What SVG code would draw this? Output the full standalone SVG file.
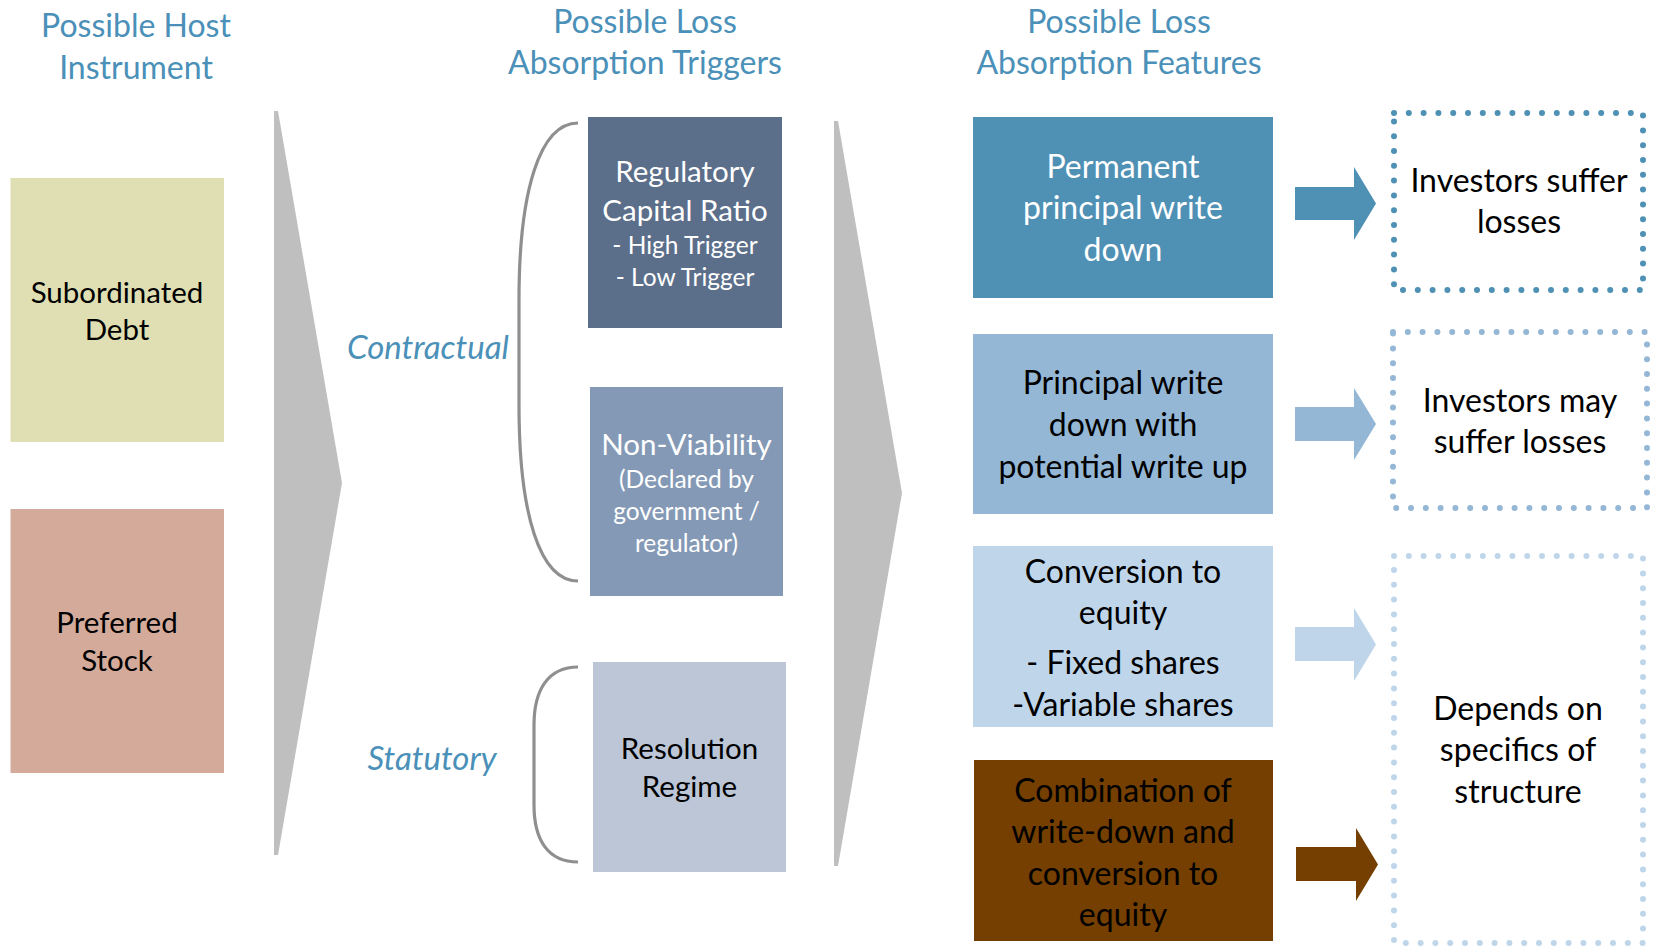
<svg xmlns="http://www.w3.org/2000/svg" width="1655" height="949" viewBox="0 0 1655 949">
  <style>
    text { font-family: Lato, "Open Sans", "Liberation Sans", sans-serif; text-anchor: middle; }
    .hdr { fill: #4a90b8; font-size: 32px; }
    .cat { fill: #4a90b8; font-size: 33px; font-style: italic; }
    .big { font-size: 32px; }
    .mid { font-size: 29.5px; }
    .sml { font-size: 24.5px; }
    .wt { fill: #ffffff; }
    .bk { fill: #000000; }
    .brace { fill: none; stroke: #8f8f8f; stroke-width: 3.2; }
    .chev { fill: #bfbfbf; }
    .dots { fill: none; stroke-width: 6; stroke-linecap: round; stroke-dasharray: 0 14.8; }
  </style>

  <rect width="1655" height="949" fill="#ffffff"/>

  <!-- column headings -->
  <g id="heading-host">
    <text class="hdr" x="136" y="37">Possible Host</text>
    <text class="hdr" x="136" y="78.5">Instrument</text>
  </g>
  <g id="heading-triggers">
    <text class="hdr" x="645" y="32.5">Possible Loss</text>
    <text class="hdr" x="645" y="74">Absorption Triggers</text>
  </g>
  <g id="heading-features">
    <text class="hdr" x="1119" y="32.5">Possible Loss</text>
    <text class="hdr" x="1119" y="74">Absorption Features</text>
  </g>

  <!-- host instruments -->
  <g id="sub-debt">
    <rect x="10.5" y="178" width="213.5" height="264" fill="#dfdfb3"/>
    <text class="mid bk" x="117" y="303">Subordinated</text>
    <text class="mid bk" x="117" y="340">Debt</text>
  </g>
  <g id="preferred-stock">
    <rect x="10.5" y="509" width="213.5" height="264" fill="#d4ab9b"/>
    <text class="mid bk" x="117" y="633">Preferred</text>
    <text class="mid bk" x="117" y="671">Stock</text>
  </g>

  <!-- large grey flow chevrons -->
  <g id="chevron-1">
    <polygon class="chev" points="274,111 278,111 342,483 278,855 274,855"/>
  </g>
  <g id="chevron-2">
    <polygon class="chev" points="834,121 838,121 902,493 838,866 834,866"/>
  </g>

  <!-- trigger categories -->
  <g id="contractual">
    <text class="cat" x="428" y="359">Contractual</text>
    <path class="brace" d="M578,123 C540,123 519,190 519,300 L519,405 C519,515 540,581 578,581"/>
  </g>
  <g id="statutory">
    <text class="cat" x="432" y="770">Statutory</text>
    <path class="brace" d="M578,667 C548,667 534,690 534,725 L534,805 C534,840 548,862 578,862"/>
  </g>

  <!-- triggers -->
  <g id="regulatory-capital">
    <rect x="588" y="117" width="194" height="211" fill="#5b6e8a"/>
    <text class="mid wt" x="685" y="182">Regulatory</text>
    <text class="mid wt" x="685" y="221">Capital Ratio</text>
    <text class="sml wt" x="685" y="254">- High Trigger</text>
    <text class="sml wt" x="685" y="286">- Low Trigger</text>
  </g>
  <g id="non-viability">
    <rect x="590" y="387" width="193" height="209" fill="#8499b5"/>
    <text class="mid wt" x="686.5" y="455">Non-Viability</text>
    <text class="sml wt" x="686.5" y="488">(Declared by</text>
    <text class="sml wt" x="686.5" y="520">government /</text>
    <text class="sml wt" x="686.5" y="552">regulator)</text>
  </g>
  <g id="resolution-regime">
    <rect x="593" y="662" width="193" height="210" fill="#bcc6d6"/>
    <text class="mid bk" x="689.5" y="759">Resolution</text>
    <text class="mid bk" x="689.5" y="797">Regime</text>
  </g>

  <!-- loss absorption features -->
  <g id="permanent-write-down">
    <rect x="973" y="117" width="300" height="181" fill="#4f90b5"/>
    <text class="big wt" x="1123" y="178">Permanent</text>
    <text class="big wt" x="1123" y="219">principal write</text>
    <text class="big wt" x="1123" y="261">down</text>
  </g>
  <g id="write-down-write-up">
    <rect x="973" y="334" width="300" height="180" fill="#94b7d6"/>
    <text class="big bk" x="1123" y="394">Principal write</text>
    <text class="big bk" x="1123" y="436">down with</text>
    <text class="big bk" x="1123" y="478">potential write up</text>
  </g>
  <g id="conversion-equity">
    <rect x="973" y="546" width="300" height="181" fill="#bfd6ea"/>
    <text class="big bk" x="1123" y="583">Conversion to</text>
    <text class="big bk" x="1123" y="624">equity</text>
    <text class="big bk" x="1123" y="674">- Fixed shares</text>
    <text class="big bk" x="1123" y="716">-Variable shares</text>
  </g>
  <g id="combination">
    <rect x="974" y="760" width="299" height="181" fill="#743f00"/>
    <text class="big bk" x="1123" y="802">Combination of</text>
    <text class="big bk" x="1123" y="843">write-down and</text>
    <text class="big bk" x="1123" y="885">conversion to</text>
    <text class="big bk" x="1123" y="926">equity</text>
  </g>

  <!-- outcomes -->
  <g id="outcome-losses">
    <rect class="dots" x="1394" y="113" width="249" height="177" stroke="#4f90b5"/>
    <text class="big bk" x="1519" y="192">Investors suffer</text>
    <text class="big bk" x="1519" y="233">losses</text>
  </g>
  <g id="outcome-may-lose">
    <rect class="dots" x="1393" y="332" width="254" height="176" stroke="#94b7d6"/>
    <text class="big bk" x="1520" y="412">Investors may</text>
    <text class="big bk" x="1520" y="453">suffer losses</text>
  </g>
  <g id="outcome-depends">
    <rect class="dots" x="1394" y="556" width="249" height="387" stroke="#bfd6ea"/>
    <text class="big bk" x="1518" y="720">Depends on</text>
    <text class="big bk" x="1518" y="761">specifics of</text>
    <text class="big bk" x="1518" y="803">structure</text>
  </g>

  <!-- block arrows from features to outcomes -->
  <g id="connectors">
    <polygon fill="#4f90b5" points="1295,187 1354,187 1354,167 1376,203.5 1354,240 1354,220 1295,220"/>
    <polygon fill="#94b7d6" points="1295,407 1354,407 1354,388 1376,424 1354,460 1354,441 1295,441"/>
    <polygon fill="#bfd6ea" points="1295,627 1354,627 1354,608 1376,644.5 1354,681 1354,661 1295,661"/>
    <polygon fill="#743f00" points="1296,847 1356,847 1356,828 1378,864.5 1356,901 1356,881 1296,881"/>
  </g>
</svg>
